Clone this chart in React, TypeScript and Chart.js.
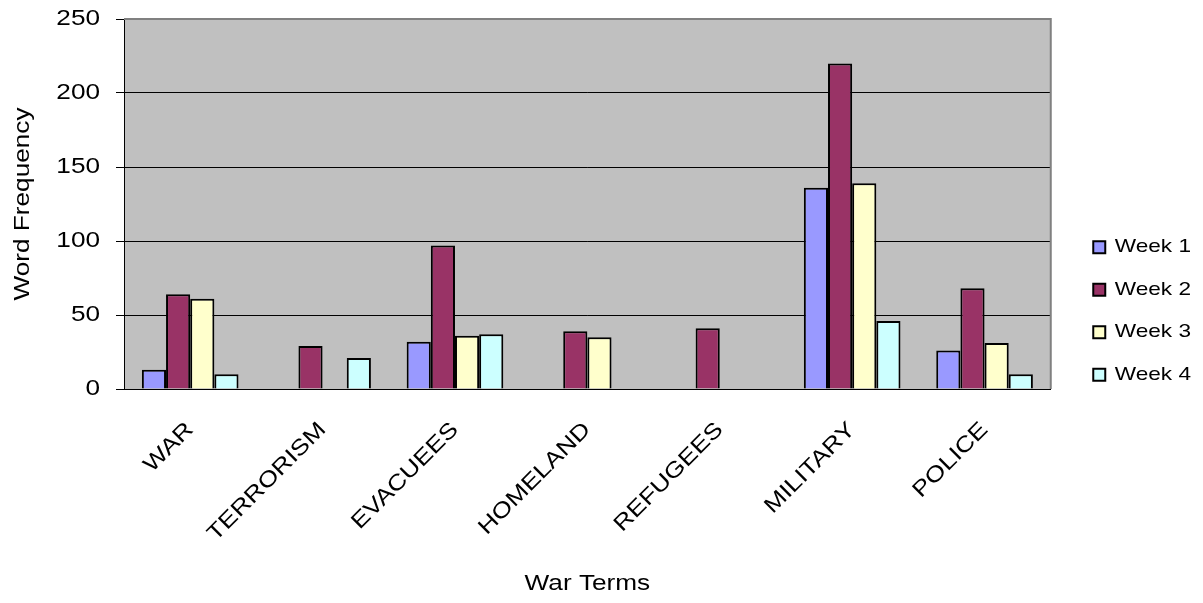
import React, { useEffect, useRef } from 'react';
import { Chart, registerables } from 'chart.js';

Chart.register(...registerables);

// Word counts per term for each week (null = term not used that week)
const categories = ['WAR', 'TERRORISM', 'EVACUEES', 'HOMELAND', 'REFUGEES', 'MILITARY', 'POLICE'];
const week1 = [13, null, 32, null, null, 136, 26];
const week2 = [64, 29, 97, 39, 41, 220, 68];
const week3 = [61, null, 36, 35, null, 139, 31];
const week4 = [10, 21, 37, null, null, 46, 10];
const seriesLabels = ['Week 1', 'Week 2', 'Week 3', 'Week 4'];
const seriesColors = ['#9999FF', '#993366', '#FFFFCC', '#CCFFFF'];
const yTicks = [0, 50, 100, 150, 200, 250];

const FONT = "'Liberation Sans', Arial, sans-serif";
// Wide-set text: glyphs are drawn stretched horizontally by this factor
const TEXT_STRETCH = 1.19;

function widenText(ctx: CanvasRenderingContext2D) {
  const fill = ctx.fillText.bind(ctx);
  const measure = ctx.measureText.bind(ctx);
  (ctx as any).fillText = (text: string, x: number, y: number, maxWidth?: number) => {
    ctx.save();
    ctx.translate(x, y);
    ctx.scale(TEXT_STRETCH, 1);
    if (maxWidth === undefined) fill(text, 0, 0);
    else fill(text, 0, 0, maxWidth / TEXT_STRETCH);
    ctx.restore();
  };
  (ctx as any).measureText = (text: string) => {
    const m = measure(text);
    return {
      width: m.width * TEXT_STRETCH,
      actualBoundingBoxLeft: m.actualBoundingBoxLeft * TEXT_STRETCH,
      actualBoundingBoxRight: m.actualBoundingBoxRight * TEXT_STRETCH,
      actualBoundingBoxAscent: m.actualBoundingBoxAscent,
      actualBoundingBoxDescent: m.actualBoundingBoxDescent,
      fontBoundingBoxAscent: m.fontBoundingBoxAscent,
      fontBoundingBoxDescent: m.fontBoundingBoxDescent,
    };
  };
}

// Grey plot background plus the grey top/right frame
const plotFrame = {
  id: 'plotFrame',
  beforeDraw(chart: any) {
    const { ctx, chartArea: a } = chart;
    ctx.save();
    ctx.fillStyle = '#C0C0C0';
    ctx.fillRect(a.left, a.top, a.right - a.left, a.bottom - a.top);
    ctx.restore();
  },
  afterDatasetsDraw(chart: any) {
    const { ctx, chartArea: a } = chart;
    ctx.save();
    ctx.strokeStyle = '#808080';
    ctx.lineWidth = 2;
    ctx.beginPath();
    ctx.moveTo(a.left, a.top);
    ctx.lineTo(a.right, a.top);
    ctx.lineTo(a.right, a.bottom);
    ctx.stroke();
    ctx.restore();
  },
};

export default function App() {
  const canvasRef = useRef<HTMLCanvasElement | null>(null);

  useEffect(() => {
    document.body.style.margin = '0';
    const canvas = canvasRef.current;
    if (!canvas) return;
    const ctx = canvas.getContext('2d');
    if (!ctx) return;
    widenText(ctx);
    Chart.defaults.font.family = FONT;
    Chart.defaults.color = '#000';

    const series = [week1, week2, week3, week4];
    const chart = new Chart(ctx, {
      type: 'bar',
      data: {
        labels: categories,
        datasets: series.map((values, i) => ({
          label: seriesLabels[i],
          data: values,
          backgroundColor: seriesColors[i],
          borderColor: '#000',
          borderWidth: 2,
          categoryPercentage: 0.73,
          barPercentage: 1,
        })),
      },
      options: {
        responsive: false,
        animation: false,
        layout: { padding: { top: 19, bottom: 0, left: 0, right: 2 } },
        plugins: {
          legend: {
            position: 'right',
            labels: {
              boxWidth: 12,
              boxHeight: 12,
              color: '#000',
              font: { size: 19, family: FONT },
              padding: 23.5,
            },
          },
          tooltip: { enabled: false },
        },
        scales: {
          x: {
            grid: { display: false },
            border: { color: '#000', width: 1 },
            ticks: {
              color: '#000',
              font: { size: 22, family: FONT },
              minRotation: 45,
              maxRotation: 45,
              autoSkip: false,
              padding: 20,
            },
            title: {
              display: true,
              text: 'War Terms',
              color: '#000',
              font: { size: 22, family: FONT },
              padding: { top: 0, bottom: 6 },
            },
            afterFit: (s: any) => {
              s.height = 214;
            },
          },
          y: {
            min: 0,
            max: 250,
            afterBuildTicks: (s: any) => {
              s.ticks = yTicks.map((v) => ({ value: v }));
            },
            ticks: {
              color: '#000',
              font: { size: 22, family: FONT },
              padding: 16,
            },
            grid: { color: '#000', lineWidth: 1, tickLength: 8 },
            border: { color: '#000', width: 1 },
            title: {
              display: true,
              text: 'Word Frequency',
              color: '#000',
              font: { size: 22, family: FONT },
              padding: { top: 10, bottom: 0 },
            },
            afterFit: (s: any) => {
              s.width = 124;
              s.paddingTop = 0;
              s.paddingBottom = 0;
            },
          },
          // empty right-hand axis: keeps a gap between the plot and the legend
          gap: {
            type: 'linear',
            position: 'right',
            display: true,
            grid: { display: false, drawTicks: false },
            ticks: { display: false },
            border: { display: false },
            afterFit: (s: any) => {
              s.width = 19;
              s.paddingTop = 0;
              s.paddingBottom = 0;
            },
          },
        },
      },
      plugins: [plotFrame],
    });
    return () => chart.destroy();
  }, []);

  return (
    <div style={{ width: 1203, height: 603, position: 'relative' }}>
      <canvas ref={canvasRef} width={1203} height={603} />
    </div>
  );
}
